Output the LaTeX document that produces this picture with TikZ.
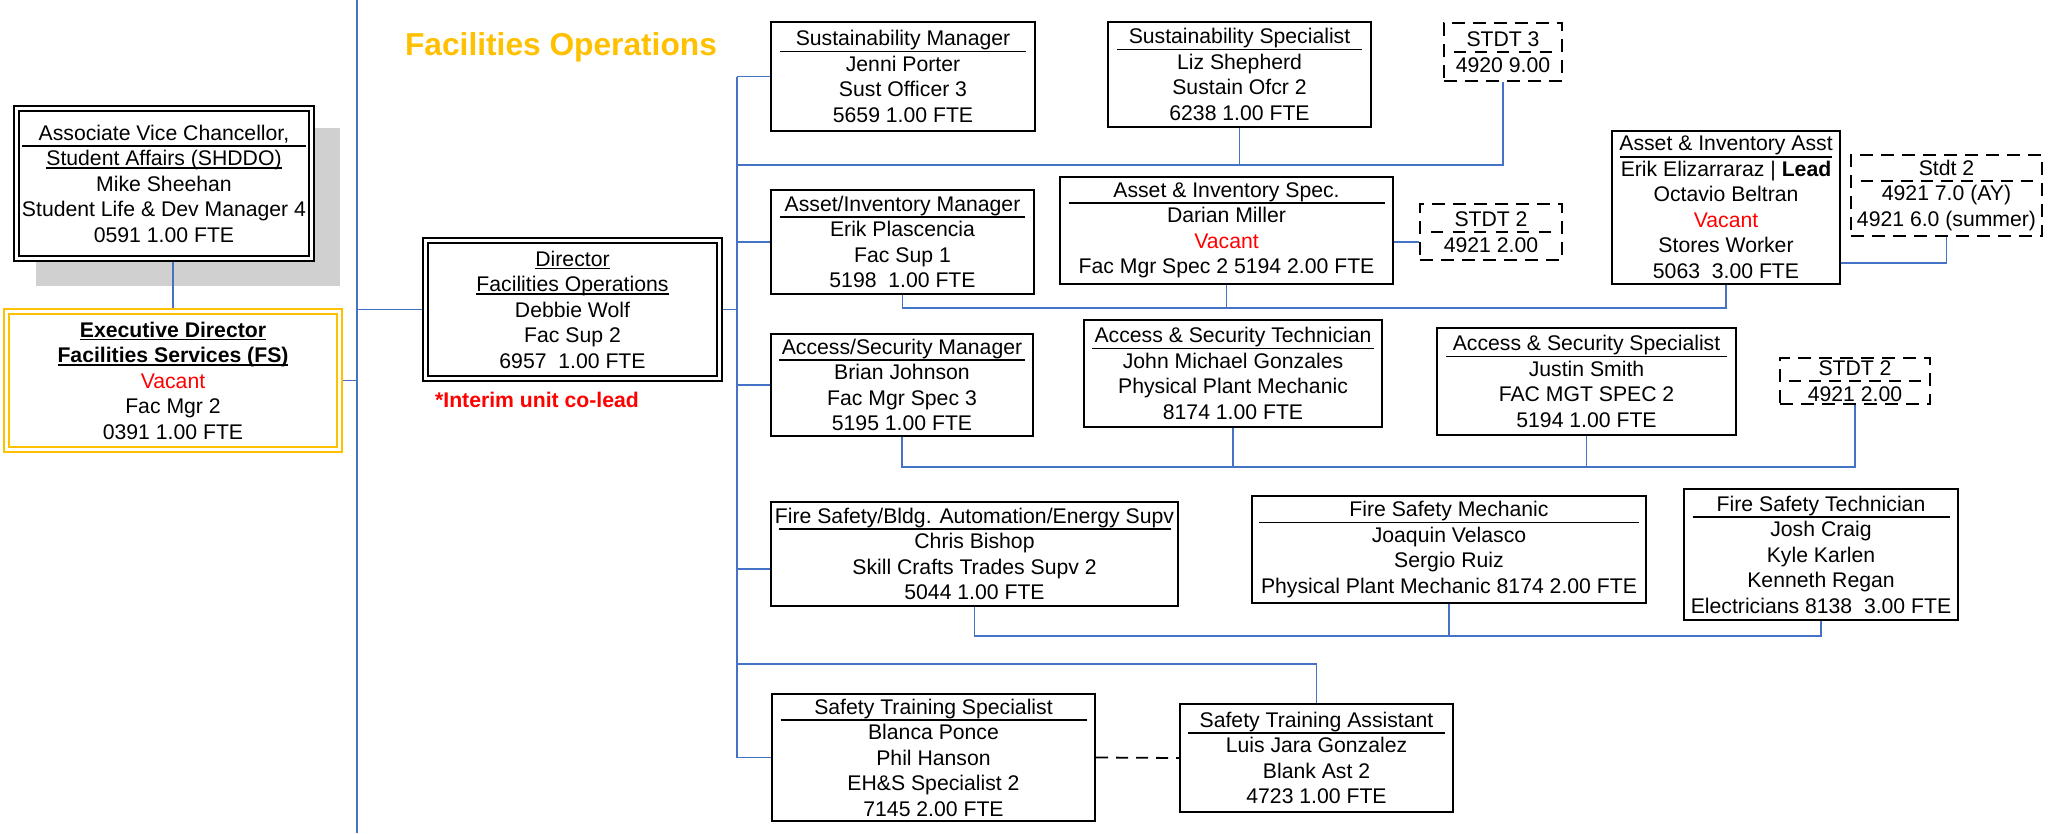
\documentclass[tikz,border=0pt]{standalone}
\usepackage{fontspec}
\setmainfont{Liberation Sans}
\definecolor{fsgold}{HTML}{FFC000}
\definecolor{fsblue}{HTML}{4472C4}
\definecolor{fsred}{HTML}{FF0000}
\definecolor{fsshadow}{HTML}{D0D0D0}
\pgfdeclarelayer{shadowlayer}
\pgfdeclarelayer{bg}
\pgfsetlayers{shadowlayer,bg,main}
\newsavebox\ulbox
\newcommand\ulin[1]{\sbox\ulbox{#1}\rlap{\rule[-3pt]{\wd\ulbox}{1.5pt}}\usebox\ulbox}
\newcommand\ttl[2]{\makebox[0pt]{\rule[-6.6pt]{#1pt}{1.8pt}}\makebox[0pt]{#2}}
\newcommand\dttl[2]{\makebox[0pt]{\raisebox{-6.6pt}{\hbox to #1pt{\xleaders\hbox to 20pt{\hss\rule{12pt}{1.8pt}\hss}\hfill}}}\makebox[0pt]{#2}}
\newcommand\vac{\textcolor{fsred}{Vacant}}
\begin{document}
\begin{tikzpicture}[x=1pt,y=-1pt,
 every node/.style={font=\fontsize{21.2}{25.5}\selectfont, align=center, inner sep=0pt},
 box/.style={draw=black, line width=2.2pt, fill=white},
 dbox/.style={draw=black, line width=2pt, fill=white, dash pattern=on 13pt off 8pt},
 dblbox/.style={draw=black, line width=1.8pt, double=white, double distance=2.6pt, fill=white},
 goldbox/.style={draw=fsgold, line width=1.8pt, double=white, double distance=2.6pt, fill=white},
 conn/.style={draw=fsblue, line width=1.8pt},
 dashconn/.style={draw=black, line width=1.8pt, dash pattern=on 12pt off 8pt}]
\useasboundingbox (0,0) rectangle (2049,833);

% left column
\begin{pgfonlayer}{shadowlayer}
\node[fill=fsshadow, minimum width=304pt, minimum height=158pt] (avcsh) at (188,207) {};
\end{pgfonlayer}
\node[dblbox, minimum width=295pt, minimum height=150pt] (avc) at (164,183.5)
 {\ttl{284}{Associate Vice Chancellor,}\\ \ulin{Student Affairs (SHDDO)}\\ Mike Sheehan\\ Student Life \& Dev Manager 4\\ 0591 1.00 FTE};
\node[goldbox, minimum width=333pt, minimum height=138pt] (exec) at (173,380.5)
 {\ulin{\textbf{Executive Director}}\\ \ulin{\textbf{Facilities Services (FS)}}\\ \vac\\ Fac Mgr 2\\ 0391 1.00 FTE};

% director
\node[dblbox, minimum width=294pt, minimum height=138pt] (dir) at (572.5,309.5)
 {\ulin{Director}\\ \ulin{Facilities Operations}\\ Debbie Wolf\\ Fac Sup 2\\ 6957~~1.00 FTE};
\node[anchor=base, font=\fontsize{31.7}{36}\selectfont\bfseries, text=fsgold] (title) at (561,55) {Facilities Operations};
\node[anchor=base, font=\fontsize{21.2}{25.5}\selectfont\bfseries, text=fsred] (interim) at (537,407) {*Interim unit co-lead};

% row 1
\node[box, minimum width=264pt, minimum height=109pt] (sm) at (903,76.5)
 {\ttl{246}{Sustainability Manager}\\ Jenni Porter\\ Sust Officer 3\\ 5659 1.00 FTE};
\node[box, minimum width=263pt, minimum height=105pt] (ss) at (1239.5,74.5)
 {\ttl{245}{Sustainability Specialist}\\ Liz Shepherd\\ Sustain Ofcr 2\\ 6238 1.00 FTE};
\node[dbox, minimum width=118pt, minimum height=58pt] (st3) at (1503,52)
 {\dttl{110}{STDT 3}\\ 4920 9.00};

% row 2
\node[box, minimum width=263pt, minimum height=104pt] (aim) at (902.5,242)
 {\ttl{245}{Asset/Inventory Manager}\\ Erik Plascencia\\ Fac Sup 1\\ 5198~~1.00 FTE};
\node[box, minimum width=333pt, minimum height=107pt] (ais) at (1226.5,230.5)
 {\ttl{316}{Asset \& Inventory Spec.}\\ Darian Miller\\ \vac\\ Fac Mgr Spec 2 5194 2.00 FTE};
\node[dbox, minimum width=142pt, minimum height=56pt] (st2a) at (1491,232)
 {\dttl{130}{STDT 2}\\ 4921 2.00};
\node[box, minimum width=228pt, minimum height=153pt] (aia) at (1726,207.5)
 {\ttl{212}{Asset \& Inventory Asst}\\ Erik Elizarraraz | \textbf{Lead}\\ Octavio Beltran\\ \vac\\ Stores Worker\\ 5063~~3.00 FTE};
\node[dbox, minimum width=191pt, minimum height=81pt] (st2r) at (1946.5,195.5)
 {\dttl{180}{Stdt 2}\\ 4921 7.0 (AY)\\ 4921 6.0 (summer)};

% row 3
\node[box, minimum width=262pt, minimum height=102pt] (asm) at (902,385)
 {\ttl{246}{Access/Security Manager}\\ Brian Johnson\\ Fac Mgr Spec 3\\ 5195 1.00 FTE};
\node[box, minimum width=298pt, minimum height=107pt] (ast) at (1233,373.5)
 {\ttl{282}{Access \& Security Technician}\\ John Michael Gonzales\\ Physical Plant Mechanic\\ 8174 1.00 FTE};
\node[box, minimum width=299pt, minimum height=107pt] (ass) at (1586.5,381.5)
 {\ttl{281}{Access \& Security Specialist}\\ Justin Smith\\ FAC MGT SPEC 2\\ 5194 1.00 FTE};
\node[dbox, minimum width=150pt, minimum height=46pt] (st2b) at (1855,381)
 {\dttl{140}{STDT 2}\\ 4921 2.00};

% row 4
\node[box, minimum width=407pt, minimum height=104pt] (fsb) at (974.5,554)
 {\ttl{392}{Fire Safety/Bldg. Automation/Energy Supv}\\ Chris Bishop\\ Skill Crafts Trades Supv 2\\ 5044 1.00 FTE};
\node[box, minimum width=394pt, minimum height=107pt] (fsm) at (1449,549.5)
 {\ttl{380}{Fire Safety Mechanic}\\ Joaquin Velasco\\ Sergio Ruiz\\ Physical Plant Mechanic 8174 2.00 FTE};
\node[box, minimum width=274pt, minimum height=131pt] (fst) at (1821,554.5)
 {\ttl{257}{Fire Safety Technician}\\ Josh Craig\\ Kyle Karlen\\ Kenneth Regan\\ Electricians 8138~~3.00 FTE};

% row 5
\node[box, minimum width=323pt, minimum height=127pt] (sts) at (933.5,757.5)
 {\ttl{306}{Safety Training Specialist}\\ Blanca Ponce\\ Phil Hanson\\ EH\&S Specialist 2\\ 7145 2.00 FTE};
\node[box, minimum width=273pt, minimum height=108pt] (sta) at (1316.5,758)
 {\ttl{257}{Safety Training Assistant}\\ Luis Jara Gonzalez\\ Blank Ast 2\\ 4723 1.00 FTE};

% connectors
\coordinate (divtop) at (357,0);
\coordinate (divbot) at (357,833);
\coordinate (bus) at (737,0);
\coordinate (sbar) at (737,165);
\coordinate (abar) at (902.5,308);
\coordinate (bar3) at (902,467);
\coordinate (bar4) at (974.5,636);
\coordinate (stbar) at (737,664);
\coordinate (aiaj) at ([yshift=-55.5pt]aia.east);
\begin{pgfonlayer}{bg}
\draw[conn] (divtop) -- (divbot);
\draw[conn] (exec.north |- avc.south) -- (exec.north);
\draw[conn] (exec.east) -- (exec.east -| divtop);
\draw[conn] (dir.west) -- (dir.west -| divtop);
\draw[conn] (dir.east) -- (dir.east -| bus);
\draw[conn] (sm.west -| bus) -- (sts.west -| bus);
\draw[conn] (sm.west -| bus) -- (sm.west);
\draw[conn] (st3.south) |- (sbar);
\draw[conn] (ss.south) -- (ss.south |- sbar);
\draw[conn] (aim.west -| bus) -- (aim.west);
\draw[conn] (aim.south) -- (abar) -| (aia.south);
\draw[conn] (ais.south) -- (ais.south |- abar);
\draw[conn] ([yshift=-11.5pt]ais.east) -- ([yshift=-11.5pt]ais.east -| st2a.west);
\draw[conn] (st2r.south) |- (aiaj);
\draw[conn] (asm.west -| bus) -- (asm.west);
\draw[conn] (asm.south) -- (bar3) -| (ass.south);
\draw[conn] (ast.south) -- (ast.south |- bar3);
\draw[conn] (st2b.south) |- (ass.south |- bar3);
\draw[conn] ([yshift=-15pt]fsb.west -| bus) -- ([yshift=-15pt]fsb.west);
\draw[conn] (fsb.south) -- (bar4) -| (fst.south);
\draw[conn] (fsm.south) -- (fsm.south |- bar4);
\draw[conn] (sta.north) |- (stbar);
\draw[conn] (sts.west -| bus) -- (sts.west);
\draw[dashconn] (sts.east) -- (sta.west);
\end{pgfonlayer}
\end{tikzpicture}
\end{document}
